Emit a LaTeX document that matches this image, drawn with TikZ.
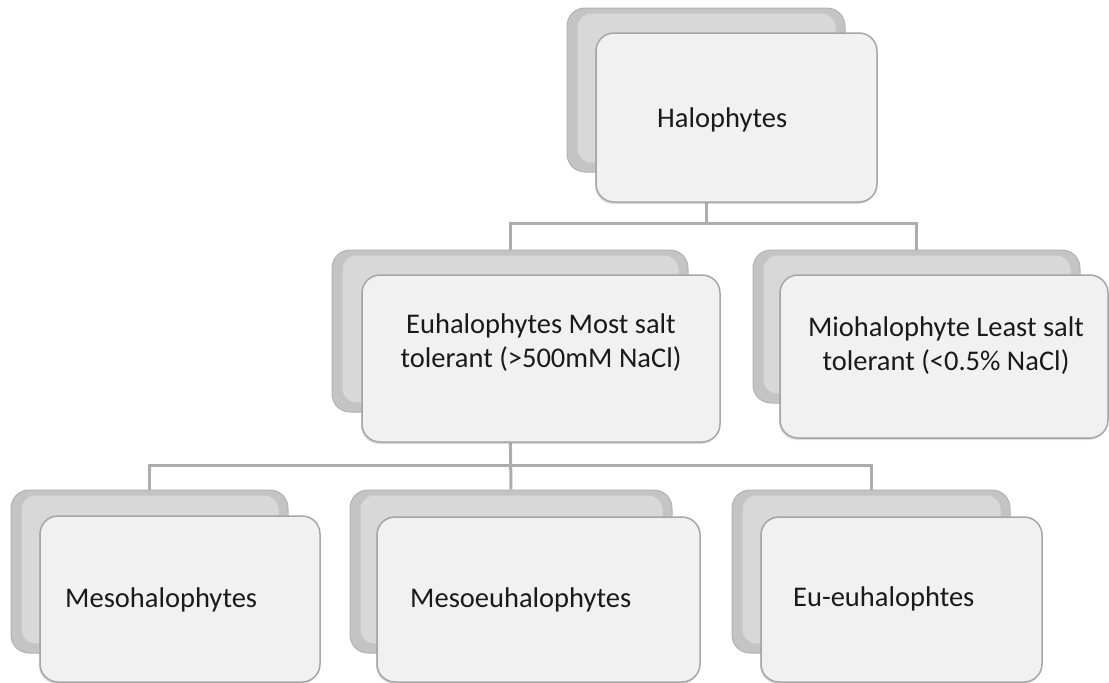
\documentclass[tikz,border=0pt]{standalone}
\usepackage{fontspec}
\setmainfont{Carlito}
\usetikzlibrary{shadows}
\definecolor{backfill}{HTML}{C4C4C4}
\definecolor{backdraw}{HTML}{B2B2B2}
\definecolor{backhi}{HTML}{D8D8D8}
\definecolor{frontfill}{HTML}{F1F1F1}
\definecolor{frontdraw}{HTML}{A6A6A6}
\definecolor{connc}{HTML}{ADADAD}
\definecolor{txt}{HTML}{1A1A1A}
\tikzset{
  backbox/.style 2 args={rectangle, draw=backdraw, fill=backfill, line width=1pt,
    rounded corners=18pt, minimum width=#1, minimum height=#2, inner sep=0pt},
  hilite/.style={fill=backhi, rounded corners=14pt},
  frontbox/.style 2 args={rectangle, draw=frontdraw, fill=frontfill, line width=1.5pt,
    rounded corners=18pt, minimum width=#1, minimum height=#2, inner sep=0pt,
    drop shadow={shadow xshift=-1pt, shadow yshift=-2pt, opacity=0.25}},
  conn/.style={draw=connc, line width=3pt},
  lbl/.style={inner sep=0pt, text=txt, font=\fontsize{28.5}{34}\selectfont},
}
\newcommand{\backhl}[1]{\path[hilite] ([xshift=11pt,yshift=-6pt]#1.north west) rectangle ([xshift=-10pt,yshift=10pt]#1.south east);}
\begin{document}
\begin{tikzpicture}[x=1pt,y=-1pt]
\useasboundingbox (0,0) rectangle (1109,683);
% back boxes
\node[backbox={278pt}{164pt}] (hb) at (706,90) {};
\backhl{hb}
\node[backbox={356pt}{162pt}] (eb) at (510,331) {};
\backhl{eb}
\node[backbox={327pt}{153pt}] (mb) at (916.5,326.5) {};
\backhl{mb}
\node[backbox={277pt}{163pt}] (b1b) at (149.5,571.5) {};
\backhl{b1b}
\node[backbox={322pt}{163pt}] (b2b) at (511,571.5) {};
\backhl{b2b}
\node[backbox={278pt}{163pt}] (b3b) at (871,571.5) {};
\backhl{b3b}
% connectors
\coordinate (row1) at (0,223);
\coordinate (row2) at (0,465);
\draw[conn] (hb.south) -- (hb.south |- row1) -| (eb.north);
\draw[conn] (hb.south |- row1) -| (mb.north);
\draw[conn] (eb.south) -- (b2b.north);
\draw[conn] (eb.south |- row2) -| (b1b.north);
\draw[conn] (eb.south |- row2) -| (b3b.north);
% front boxes
\node[frontbox={281pt}{169pt}] (hf) at (736.5,117.5) {};
\node[frontbox={358pt}{167pt}] (ef) at (541,358.5) {};
\node[frontbox={328pt}{163pt}] (mf) at (944,356.5) {};
\node[frontbox={280pt}{166pt}] (b1f) at (180,599) {};
\node[frontbox={323pt}{165pt}] (b2f) at (538.5,599.5) {};
\node[frontbox={281pt}{165pt}] (b3f) at (901.5,599.5) {};
% texts
\node[lbl, anchor=base west] (ht) at (657,127) {Halophytes};
\node[lbl, align=center] (et) at (541,343) {Euhalophytes Most salt\\tolerant (>500mM NaCl)};
\node[lbl, align=center] (mt) at (946,346) {Miohalophyte Least salt\\tolerant (<0.5\% NaCl)};
\node[lbl, anchor=base west] (t1) at (65,607) {Mesohalophytes};
\node[lbl, anchor=base west] (t2) at (410,607) {Mesoeuhalophytes};
\node[lbl, anchor=base west] (t3) at (793,606) {Eu-euhalophtes};
\end{tikzpicture}
\end{document}
